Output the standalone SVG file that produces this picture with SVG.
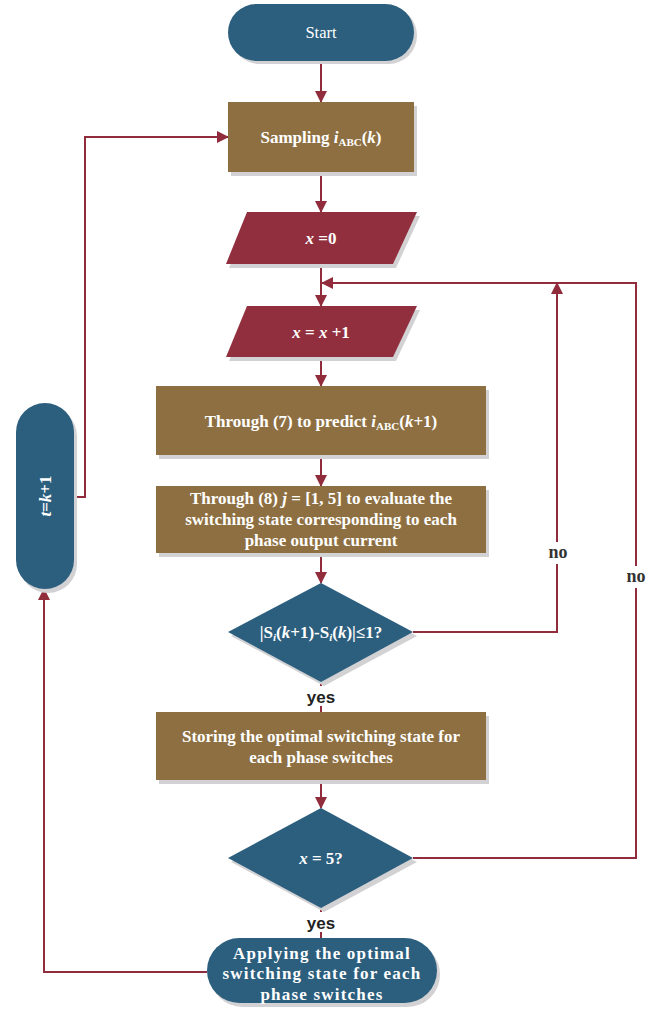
<svg xmlns="http://www.w3.org/2000/svg" width="662" height="1014" viewBox="0 0 662 1014">
<style>
.sh{fill:#d2d2d4}
.blue{fill:#2c5e7e}
.brown{fill:#8e6f42}
.red{fill:#922f3e}
.t{font-family:"Liberation Serif",serif;font-size:17px;font-weight:bold;fill:#ffffff;text-anchor:middle}
.tr{font-family:"Liberation Serif",serif;font-size:16.5px;fill:#ffffff;text-anchor:middle}
.lbl{font-family:"Liberation Sans",sans-serif;font-size:17px;font-weight:bold;fill:#222;text-anchor:middle}
.no{font-family:"Liberation Serif",serif;font-size:18px;font-weight:bold;fill:#333;text-anchor:middle}
.c{fill:none;stroke:#912c3c;stroke-width:2}
</style>
<defs>
<marker id="ah" markerWidth="12" markerHeight="12" refX="11" refY="6" orient="auto" markerUnits="userSpaceOnUse">
<path d="M0,0 L12,6 L0,12 Z" fill="#912c3c"/>
</marker>
</defs>
<rect width="662" height="1014" fill="#ffffff"/>
<g id="connectors">
<line class="c" x1="321" y1="61" x2="321" y2="102" marker-end="url(#ah)"/>
<line class="c" x1="321" y1="172" x2="321" y2="212" marker-end="url(#ah)"/>
<line class="c" x1="321" y1="264" x2="321" y2="306" marker-end="url(#ah)"/>
<line class="c" x1="321" y1="357" x2="321" y2="386" marker-end="url(#ah)"/>
<line class="c" x1="321" y1="455" x2="321" y2="486" marker-end="url(#ah)"/>
<line class="c" x1="321" y1="553" x2="321" y2="583" marker-end="url(#ah)"/>
<line class="c" x1="321" y1="682" x2="321" y2="712"/>
<line class="c" x1="321" y1="780" x2="321" y2="808" marker-end="url(#ah)"/>
<line class="c" x1="321" y1="908" x2="321" y2="938"/>
<polyline class="c" points="413,632 557,632 557,283" marker-end="url(#ah)"/>
<polyline class="c" points="413,858 636,858 636,283 322,283" marker-end="url(#ah)"/>
<polyline class="c" points="207,972 44,972 44,589" marker-end="url(#ah)"/>
<polyline class="c" points="74,497 85,497 85,137 228,137" marker-end="url(#ah)"/>
<rect x="540" y="542" width="36" height="22" fill="#ffffff"/>
<text class="no" x="558" y="558">no</text>
<rect x="618" y="566" width="36" height="22" fill="#ffffff"/>
<text class="no" x="636" y="582">no</text>
<rect x="300" y="686" width="42" height="20" fill="#ffffff"/>
<text class="lbl" x="321" y="703">yes</text>
<rect x="300" y="912" width="42" height="20" fill="#ffffff"/>
<text class="lbl" x="321" y="929">yes</text>
</g>
<g id="start">
<rect class="sh" x="231" y="7" width="186" height="57" rx="28.5"/>
<rect class="blue" x="228" y="4" width="186" height="57" rx="28.5"/>
<text class="tr" x="321" y="38">Start</text>
</g>
<g id="sampling">
<rect class="sh" x="231" y="106" width="186" height="70"/>
<rect class="brown" x="228" y="102" width="186" height="70"/>
<text class="t" x="321" y="143">Sampling <tspan font-style="italic">i</tspan><tspan font-size="11" dy="3">ABC</tspan><tspan dy="-3">(</tspan><tspan font-style="italic">k</tspan>)</text>
</g>
<g id="x0">
<polygon class="sh" points="250,216 420,216 396,268 229,268"/>
<polygon class="red" points="247,212 417,212 393,264 226,264"/>
<text class="t" x="321" y="244"><tspan font-style="italic">x</tspan> =0</text>
</g>
<g id="xinc">
<polygon class="sh" points="250,310 420,310 396,361 229,361"/>
<polygon class="red" points="247,306 417,306 393,357 226,357"/>
<text class="t" x="321" y="338"><tspan font-style="italic">x</tspan> = <tspan font-style="italic">x</tspan> +1</text>
</g>
<g id="predict">
<rect class="sh" x="159" y="390" width="330" height="69"/>
<rect class="brown" x="156" y="386" width="330" height="69"/>
<text class="t" x="321" y="427">Through (7) to predict <tspan font-style="italic">i</tspan><tspan font-size="11" dy="3">ABC</tspan><tspan dy="-3">(</tspan><tspan font-style="italic">k</tspan>+1)</text>
</g>
<g id="evaluate">
<rect class="sh" x="159" y="490" width="330" height="67"/>
<rect class="brown" x="156" y="486" width="330" height="67"/>
<text class="t" x="321" y="504">Through (8)  <tspan font-style="italic">j</tspan> = [1, 5] to evaluate the</text>
<text class="t" x="321" y="525">switching state corresponding to each</text>
<text class="t" x="321" y="546">phase output current</text>
</g>
<g id="check">
<polygon class="sh" points="324,587 417,636 324,686 231,636"/>
<polygon class="blue" points="321,583 413,632 321,682 228,632"/>
<text class="t" x="321" y="638">|S<tspan font-style="italic" font-size="11" dy="3">i</tspan><tspan dy="-3">(</tspan><tspan font-style="italic">k</tspan>+1)-S<tspan font-style="italic" font-size="11" dy="3">i</tspan><tspan dy="-3">(</tspan><tspan font-style="italic">k</tspan>)|≤1?</text>
</g>
<g id="storing">
<rect class="sh" x="159" y="716" width="330" height="68"/>
<rect class="brown" x="156" y="712" width="330" height="68"/>
<text class="t" x="321" y="742">Storing the optimal switching state for</text>
<text class="t" x="321" y="763">each phase switches</text>
</g>
<g id="x5">
<polygon class="sh" points="324,812 417,862 324,912 231,862"/>
<polygon class="blue" points="321,808 413,858 321,908 228,858"/>
<text class="t" x="321" y="864"><tspan font-style="italic">x</tspan> = 5?</text>
</g>
<g id="applying">
<rect class="sh" x="210" y="942" width="230" height="65" rx="32.5"/>
<rect class="blue" x="207" y="938" width="230" height="65" rx="32.5"/>
<text class="t" x="322" y="959" letter-spacing="1.2">Applying the optimal</text>
<text class="t" x="322" y="979" letter-spacing="1.2">switching state for each</text>
<text class="t" x="322" y="1000" letter-spacing="1.2">phase switches</text>
</g>
<g id="update">
<rect class="sh" x="19" y="407" width="58" height="186" rx="29"/>
<rect class="blue" x="16" y="403" width="58" height="186" rx="29"/>
<text class="t" x="0" y="0" transform="translate(51,496) rotate(-90)"><tspan font-style="italic">t</tspan>=<tspan font-style="italic">k</tspan>+1</text>
</g>
</svg>
